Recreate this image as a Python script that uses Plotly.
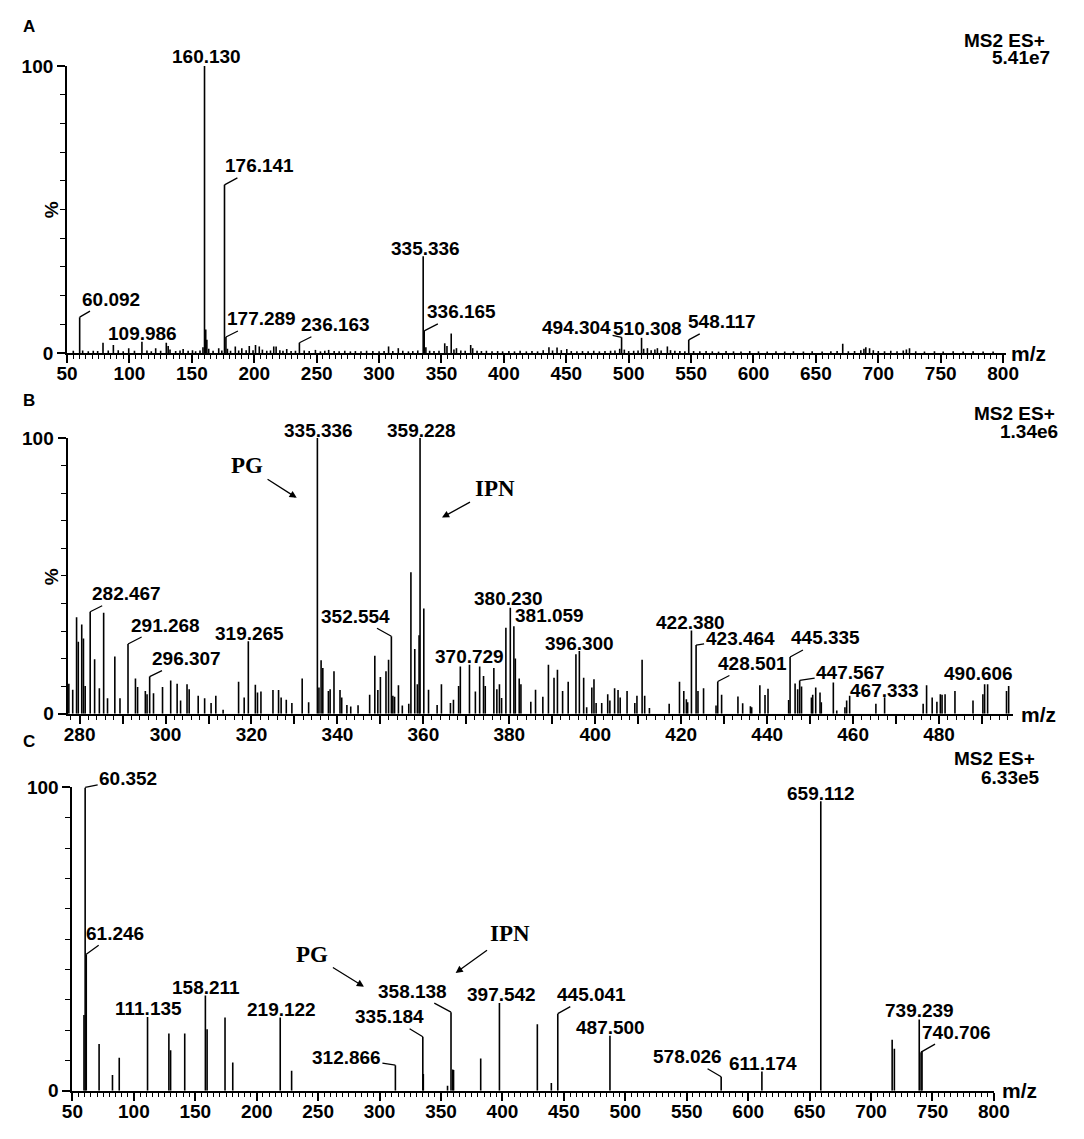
import plotly.graph_objects as go

# ---------------- DATA ----------------
# Panel A: MS2 ES+ 5.41e7, m/z 50-800
A_mz = [55.0, 60.092, 62.5, 67.0, 71.0, 74.5, 78.8, 83.0, 87.1, 91.0, 95.0, 99.4, 104.0, 109.986, 114.0,
        117.5, 121.0, 125.0, 129.5, 131.0, 132.5, 137.0, 140.5, 143.0, 147.0, 150.5, 153.0, 156.5, 158.9,
        160.130, 161.1, 162.0, 163.5, 167.0, 171.5, 174.0, 176.141, 177.289, 178.5, 181.0, 184.8, 187.5,
        190.0, 193.5, 196.0, 199.0, 201.0, 204.0, 206.5, 210.0, 213.0, 215.6, 217.5, 220.5, 223.0, 226.0,
        229.5, 233.0, 236.163, 240.0, 244.0, 249.0, 253.0, 256.5, 259.6, 264.0, 268.0, 272.5, 277.0, 281.0,
        285.5, 290.0, 295.0, 300.0, 304.0, 307.6, 311.0, 315.4, 319.0, 323.5, 327.0, 331.0, 335.336, 336.165,
        337.5, 340.5, 344.0, 348.0, 352.6, 354.4, 357.8, 360.0, 362.0, 365.5, 369.0, 373.4, 375.0, 378.5,
        382.0, 386.0, 390.5, 395.0, 399.0, 404.0, 408.5, 413.0, 418.0, 422.5, 427.0, 431.5, 436.1, 439.0,
        442.6, 446.0, 450.4, 454.0, 458.5, 463.0, 467.5, 472.0, 476.5, 481.0, 485.5, 489.0, 492.8, 494.304,
        496.5, 500.0, 504.0, 507.5, 510.308, 512.0, 515.0, 518.0, 521.0, 523.0, 526.0, 531.0, 533.5, 537.0,
        541.0, 545.0, 548.117, 552.0, 557.0, 562.0, 567.0, 572.0, 578.0, 584.0, 590.0, 597.0, 604.0, 611.0,
        618.0, 625.0, 632.0, 640.0, 647.0, 655.0, 662.0, 667.0, 671.5, 676.0, 681.0, 686.0, 688.5, 690.0,
        693.0, 696.0, 700.0, 705.0, 710.0, 715.0, 720.0, 722.5, 725.0, 730.0, 737.0, 745.0, 752.0, 760.0,
        768.0, 776.0, 784.0, 792.0]
A_int = [0.8, 12.5, 0.9, 0.6, 0.8, 0.7, 3.6, 0.9, 2.8, 1.0, 0.6, 1.7, 0.8, 3.9, 0.9,
         0.6, 1.7, 0.8, 3.6, 2.5, 1.2, 0.7, 0.9, 1.4, 0.8, 1.0, 0.6, 0.9, 2.0,
         100.0, 8.2, 4.6, 1.5, 0.8, 1.7, 0.9, 58.6, 5.6, 1.5, 0.8, 2.3, 0.9,
         1.7, 1.0, 2.5, 1.0, 2.8, 2.3, 1.2, 0.8, 0.9, 2.3, 2.3, 1.0, 0.8, 1.4,
         0.7, 0.8, 3.6, 0.9, 0.7, 1.1, 0.6, 0.8, 1.1, 0.7, 0.6, 0.8, 0.6, 0.7,
         0.6, 0.8, 0.7, 0.6, 0.7, 2.3, 0.7, 1.7, 0.8, 0.6, 0.7, 0.9, 33.7, 7.7,
         2.0, 0.8, 0.7, 0.8, 3.4, 2.5, 6.8, 1.2, 1.7, 0.9, 0.8, 2.8, 1.7, 0.8,
         0.7, 0.8, 0.6, 0.7, 0.6, 0.7, 0.6, 0.8, 0.6, 0.7, 0.6, 1.0, 2.0, 0.9,
         1.9, 1.0, 1.4, 0.7, 0.6, 0.7, 0.6, 0.8, 0.6, 0.7, 0.8, 0.9, 1.5, 5.5,
         1.2, 0.7, 0.8, 0.9, 5.3, 1.5, 1.7, 1.0, 1.2, 1.7, 0.9, 2.3, 1.0, 0.8,
         0.7, 0.6, 4.6, 0.7, 0.6, 0.7, 0.6, 0.5, 0.7, 0.6, 0.5, 0.7, 0.6, 0.5,
         0.6, 0.5, 0.6, 0.5, 0.6, 0.5, 0.6, 0.7, 3.2, 0.6, 0.7, 1.0, 1.5, 2.0,
         1.7, 1.0, 0.7, 0.6, 0.8, 0.6, 0.9, 1.2, 1.7, 0.6, 0.5, 0.6, 0.5, 0.6,
         0.5, 0.6, 0.5, 0.5]
A_labels = [60.092, 109.986, 160.130, 176.141, 177.289, 236.163, 335.336, 336.165, 494.304, 510.308, 548.117]

# Panel B: MS2 ES+ 1.34e6, m/z ~277-497
B_mz = [277.5, 278.4, 279.3, 279.7, 280.5, 280.9, 281.3, 282.467, 283.5, 284.6, 285.6, 286.5, 288.2, 289.4,
        291.268, 293.0, 293.5, 295.3, 295.7, 296.307, 297.2, 299.3, 301.2, 302.7, 303.5, 305.0, 305.5, 307.6,
        309.1, 310.6, 311.7, 313.4, 317.0, 318.3, 319.265, 320.9, 321.4, 322.2, 325.0, 326.3, 326.9, 328.1,
        329.4, 331.8, 333.3, 335.336, 335.7, 336.2, 336.6, 337.9, 338.3, 339.2, 340.6, 341.0, 342.2, 343.1,
        344.8, 347.5, 348.7, 349.4, 350.0, 351.3, 351.9, 352.554, 352.9, 353.3, 354.2, 355.1, 356.6, 357.1,
        358.0, 358.6, 359.0, 359.228, 360.1, 361.2, 363.2, 364.2, 366.3, 367.0, 368.2, 368.6, 370.729, 372.1,
        373.1, 374.0, 374.4, 376.4, 377.1, 377.7, 378.2, 379.2, 380.230, 381.059, 381.4, 382.3, 382.7, 385.0,
        386.1, 387.8, 389.1, 390.4, 391.2, 392.4, 393.7, 395.5, 396.300, 397.3, 398.0, 399.2, 399.7, 400.2,
        401.5, 402.9, 403.4, 404.5, 405.3, 405.8, 407.4, 409.2, 409.7, 410.9, 411.5, 412.6, 417.2, 419.6,
        420.6, 421.2, 421.5, 422.380, 423.464, 423.9, 425.2, 428.1, 428.501, 429.4, 433.2, 434.3, 436.1, 436.4,
        438.3, 439.5, 440.2, 445.0, 445.335, 446.5, 447.1, 447.567, 448.0, 450.3, 450.6, 451.3, 452.3, 452.6,
        455.4, 456.2, 458.1, 458.5, 459.2, 465.3, 467.333, 476.3, 477.1, 478.4, 479.5, 480.3, 480.7, 481.4,
        483.7, 487.9, 490.2, 490.606, 491.3, 495.7, 496.2]
B_int = [10.9, 8.7, 35.0, 26.1, 32.4, 27.3, 10.1, 37.0, 19.8, 9.3, 36.6, 5.6, 20.8, 5.6,
         25.3, 12.8, 9.7, 8.3, 7.1, 13.5, 7.4, 9.7, 12.1, 10.9, 4.8, 10.7, 8.9, 6.5,
         5.6, 3.9, 6.5, 1.5, 11.6, 5.9, 26.3, 10.5, 7.7, 8.1, 8.6, 8.6, 5.9, 5.1,
         3.9, 12.8, 4.2, 100.0, 9.5, 19.4, 16.6, 8.3, 8.9, 15.4, 8.6, 5.9, 3.2, 2.6,
         3.1, 6.9, 21.0, 8.6, 13.3, 15.4, 19.6, 28.1, 6.5, 6.2, 10.3, 3.0, 3.6, 51.3,
         23.5, 10.7, 28.5, 100.0, 38.2, 8.7, 3.2, 10.7, 3.9, 5.1, 10.1, 17.1, 17.8, 8.1,
         17.1, 13.7, 10.1, 16.6, 8.9, 10.7, 5.7, 31.2, 38.4, 31.7, 20.0, 12.8, 10.7, 4.4,
         8.7, 6.2, 17.8, 13.1, 16.0, 8.3, 11.6, 21.6, 22.8, 13.1, 2.4, 9.5, 12.5, 3.9,
         3.9, 7.1, 4.8, 9.3, 8.6, 5.9, 8.3, 3.9, 6.5, 19.6, 6.5, 2.1, 3.6, 11.6,
         8.3, 5.3, 4.2, 30.2, 24.9, 8.3, 9.3, 3.0, 11.7, 6.9, 6.3, 3.8, 2.7, 2.4,
         10.3, 6.8, 9.1, 5.0, 20.6, 11.0, 8.9, 12.1, 9.9, 5.9, 6.9, 9.5, 7.7, 4.2,
         11.3, 1.2, 2.4, 4.8, 6.5, 3.6, 6.0, 3.6, 10.3, 5.9, 4.4, 7.1, 6.9, 7.1,
         8.3, 4.8, 7.1, 10.7, 10.7, 8.3, 10.1]
B_labels = [282.467, 291.268, 296.307, 319.265, 335.336, 352.554, 359.228, 370.729, 380.230, 381.059,
            396.300, 422.380, 423.464, 428.501, 445.335, 447.567, 467.333, 490.606]

# Panel C: MS2 ES+ 6.33e5, m/z 50-800
C_mz = [59.4, 60.352, 61.246, 71.7, 82.6, 88.1, 111.135, 128.5, 129.9, 141.4, 158.211, 159.6, 174.2,
        180.5, 219.122, 228.4, 312.866, 335.184, 335.6, 355.3, 358.138, 359.5, 360.2, 382.3, 397.542,
        428.4, 439.8, 445.041, 487.500, 578.026, 611.174, 659.112, 717.2, 719.0, 739.239, 740.706, 741.5]
C_int = [25.0, 100.0, 45.0, 15.4, 5.2, 10.9, 24.3, 18.9, 13.3, 18.9, 31.4, 20.3, 24.1,
         9.3, 24.1, 6.6, 8.4, 17.8, 5.5, 1.6, 25.9, 7.0, 6.8, 10.6, 28.9,
         21.9, 2.5, 25.4, 18.1, 4.6, 6.3, 95.4, 16.8, 13.8, 23.5, 12.7, 13.0]
C_labels = [60.352, 61.246, 111.135, 158.211, 219.122, 312.866, 335.184, 358.138, 397.542, 445.041,
            487.500, 578.026, 611.174, 659.112, 739.239, 740.706]

headers = [("MS2 ES+", "5.41e7"), ("MS2 ES+", "1.34e6"), ("MS2 ES+", "6.33e5")]
panel_letters = ["A", "B", "C"]

# ---------------- LAYOUT / STYLE ----------------
W, H = 1084, 1139
FONT = "Liberation Sans, Arial, sans-serif"
SERIF = "Liberation Serif, Times New Roman, serif"

def px(x):
    return x / W

def py(y):
    return 1 - y / H

# label offsets (text centre relative to peak tip, in pixels) and whether a leader line is drawn
A_off = {60.092: (31, -18, 1), 109.986: (1, -8, 0), 160.130: (2, -9, 0), 176.141: (35, -19, 1),
         177.289: (36, -18, 1), 236.163: (36, -18, 1), 335.336: (2, -8, 0), 336.165: (37, -19, 1),
         494.304: (-45, -10, 1), 510.308: (6, -9, 0), 548.117: (33, -18, 1)}
B_off = {282.467: (36, -18, 1), 291.268: (37, -19, 1), 296.307: (37, -18, 1), 319.265: (1, -8, 0),
         335.336: (1, -7, 0), 352.554: (-36, -20, 1), 359.228: (1, -7, 0), 370.729: (0, -8, 0),
         380.230: (-2, -9, 0), 381.059: (36, -11, 1), 396.300: (0, -7, 0), 422.380: (-1, -8, 0),
         423.464: (44, -7, 1), 428.501: (35, -18, 1), 445.335: (35, -19, 1), 447.567: (51, -8, 1),
         467.333: (0, -7, 0), 490.606: (-6, -11, 0)}
C_off = {60.352: (43, -9, 1), 61.246: (29, -21, 1), 111.135: (1, -8, 0), 158.211: (1, -8, 0),
         219.122: (1, -8, 0), 312.866: (-49, -8, 1), 335.184: (-33, -20, 1), 358.138: (-39, -21, 1),
         397.542: (2, -9, 0), 445.041: (34, -19, 1), 487.500: (1, -8, 0), 578.026: (-34, -20, 1),
         611.174: (1, -8, 0), 659.112: (0, -8, 0), 739.239: (0, -9, 0), 740.706: (35, -20, 1)}

panels = [
    dict(mz=A_mz, it=A_int, labels=A_labels, off=A_off, xd=(57.5, 1020), yd=(349.5, 57), xr=(50, 802),
         hdr=((1062, 31), (1068, 48)), mz_lab=(1044, 350), pct=(41, 203), letter=(18, 17)),
    dict(mz=B_mz, it=B_int, labels=B_labels, off=B_off, xd=(58, 1028), yd=(717, 436), xr=(277.2, 497.3),
         hdr=((1073, 411), (1076, 429)), mz_lab=(1054, 718), pct=(41, 577), letter=(18, 398)),
    dict(mz=C_mz, it=C_int, labels=C_labels, off=C_off, xd=(63, 1008), yd=(1101, 792), xr=(50, 800),
         hdr=((1052, 763), (1057, 782)), mz_lab=(1034, 1101), pct=None, letter=(18, 745)),
]

fig = go.Figure()
annotations = []
tickfont = dict(family=FONT, size=19, color="black", weight="bold")
labfont = dict(family=FONT, size=19, color="black", weight="bold")

for k, p in enumerate(panels):
    n = "" if k == 0 else str(k + 1)
    xs, ys = [], []
    for m, v in zip(p["mz"], p["it"]):
        xs += [m, m, None]
        ys += [0, v, None]
    fig.add_trace(go.Scatter(x=xs, y=ys, mode="lines", line=dict(color="black", width=1.6),
                             xaxis="x" + n, yaxis="y" + n, hoverinfo="skip", showlegend=False))

    if k == 1:
        tv = list(range(280, 491, 10))
        tt = [str(t) if t % 20 == 0 else "" for t in tv]
        minor = dict(dtick=2, tick0=280, ticklen=4, tickwidth=1.2, tickcolor="black", ticks="outside")
    else:
        tv = list(range(50, 801, 50))
        tt = [str(t) for t in tv]
        minor = dict(dtick=5, tick0=50, ticklen=4, tickwidth=1.2, tickcolor="black", ticks="outside")

    fig.layout["xaxis" + n] = dict(domain=[px(p["xd"][0]), px(p["xd"][1])], range=list(p["xr"]),
                                   anchor="y" + n, showline=True, linecolor="black", linewidth=2,
                                   ticks="outside", ticklen=8, tickwidth=1.5, tickcolor="black",
                                   tickmode="array", tickvals=tv, ticktext=tt, minor=minor,
                                   ticklabelstandoff=-6,
                                   showgrid=False, zeroline=False, tickfont=tickfont, fixedrange=True)
    fig.layout["yaxis" + n] = dict(domain=[py(p["yd"][0]), py(p["yd"][1])], range=[0, 100],
                                   anchor="x" + n, showline=True, linecolor="black", linewidth=2,
                                   ticks="outside", ticklen=8, tickwidth=1.5, tickcolor="black",
                                   tickmode="array", tickvals=[0, 100], ticktext=["0", "100"],
                                   minor=dict(tickvals=list(range(10, 100, 10)), ticklen=5, tickwidth=1.2,
                                              tickcolor="black", ticks="outside"),
                                   showgrid=False, zeroline=False, tickfont=tickfont, fixedrange=True)

    # peak labels
    lookup = dict(zip(p["mz"], p["it"]))
    for m in p["labels"]:
        dx, dy, arrow = p["off"][m]
        txt = f"{m:.3f}"
        if arrow:
            annotations.append(dict(x=m, y=lookup[m], xref="x" + n, yref="y" + n, text=txt,
                                    showarrow=True, arrowhead=0, arrowwidth=1.3, arrowcolor="black",
                                    ax=dx, ay=dy, font=labfont))
        else:
            annotations.append(dict(x=m, y=lookup[m], xref="x" + n, yref="y" + n, text=txt,
                                    showarrow=False, xanchor="center", yanchor="middle",
                                    xshift=dx, yshift=-dy, font=labfont))

    # header
    (h1x, h1y), (h2x, h2y) = p["hdr"]
    annotations.append(dict(x=px(h1x), y=py(h1y), xref="paper", yref="paper", text=headers[k][0],
                            showarrow=False, xanchor="right", yanchor="middle",
                            font=dict(family=FONT, size=19, color="black", weight="bold")))
    annotations.append(dict(x=px(h2x), y=py(h2y), xref="paper", yref="paper", text=headers[k][1],
                            showarrow=False, xanchor="right", yanchor="middle",
                            font=dict(family=FONT, size=19, color="black", weight="bold")))
    # m/z
    annotations.append(dict(x=px(p["mz_lab"][0]), y=py(p["mz_lab"][1]), xref="paper", yref="paper",
                            text="m/z", showarrow=False, xanchor="center", yanchor="middle",
                            font=dict(family=FONT, size=21, color="black", weight="bold")))
    # %
    if p["pct"]:
        annotations.append(dict(x=px(p["pct"][0]), y=py(p["pct"][1]), xref="paper", yref="paper",
                                text="%", textangle=-90, showarrow=False, xanchor="center",
                                yanchor="middle", font=dict(family=FONT, size=19, color="black",
                                                            weight="bold")))
    # panel letter
    annotations.append(dict(x=px(p["letter"][0]), y=py(p["letter"][1]), xref="paper", yref="paper",
                            text="<b>" + panel_letters[k] + "</b>", showarrow=False, xanchor="center",
                            yanchor="middle", font=dict(family=FONT, size=17, color="black")))

# PG / IPN arrows: (arrow head position, text centre offset) in pixels
compound_arrows = [("PG", (293, 497), (-50, -32)), ("IPN", (442, 517), (53, -29)),
                   ("PG", (362, 995), (-52, -32)), ("IPN", (456, 981), (54, -39))]
for name, (hx, hy), (dx, dy) in compound_arrows:
    annotations.append(dict(x=px(hx), y=py(hy), xref="paper", yref="paper", text="<b>" + name + "</b>",
                            showarrow=True, arrowhead=2, arrowsize=1.1, arrowwidth=1.3, arrowcolor="black",
                            ax=dx, ay=dy, startstandoff=4,
                            font=dict(family=SERIF, size=23, color="black")))

fig.update_layout(width=W, height=H, margin=dict(l=0, r=0, t=0, b=0), paper_bgcolor="white",
                  plot_bgcolor="white", annotations=annotations, showlegend=False)

fig.write_html("out.html", config={"displayModeBar": False},
               post_script="document.body.style.margin='0px';document.body.style.overflow='hidden';")
